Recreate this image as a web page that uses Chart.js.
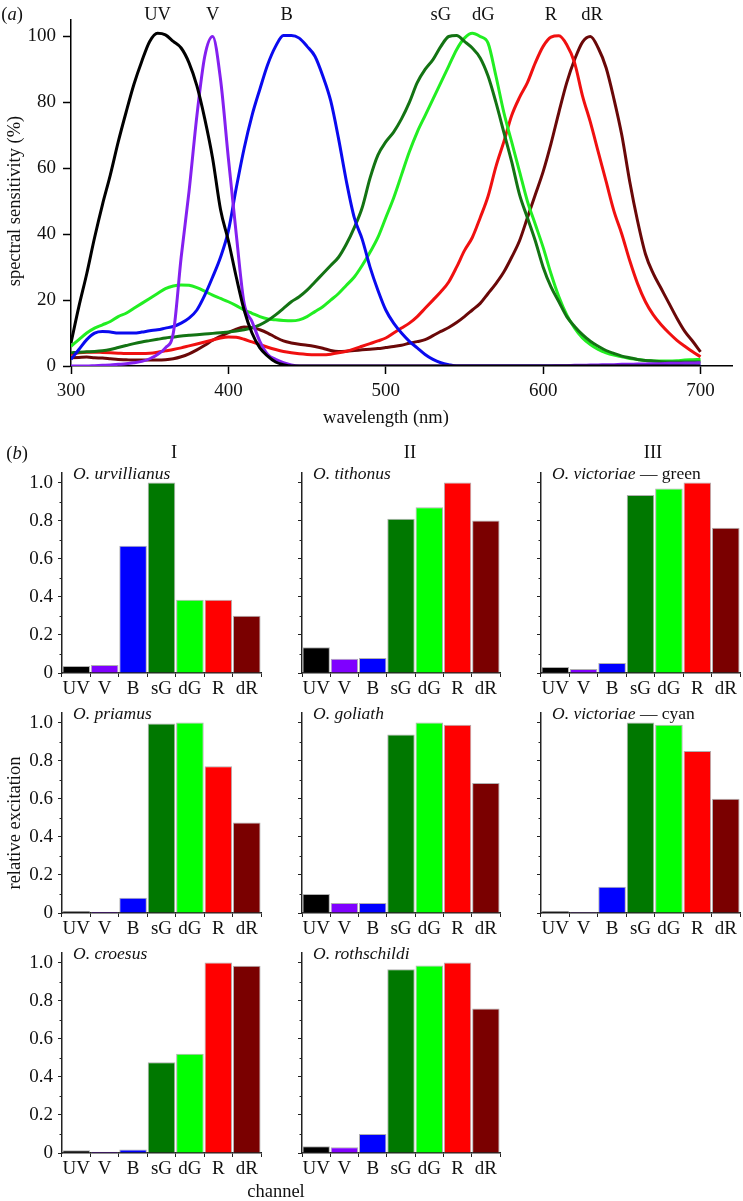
<!DOCTYPE html>
<html>
<head>
<meta charset="utf-8">
<script src="https://cdn.jsdelivr.net/npm/chart.js@4.4.0/dist/chart.umd.min.js"></script>
<style>
  body { margin:0; background:#fff; width:743px; height:1201px; position:relative; overflow:hidden;
         font-family:"Liberation Serif","Times New Roman",serif; color:#111; }
  canvas { position:absolute; }
  .t { position:absolute; font-size:18.5px; line-height:1; white-space:nowrap; transform:translate(-50%,-50%); }
  .rot { transform:translate(-50%,-50%) rotate(-90deg); }
</style>
</head>
<body>
<canvas id="spec" width="743" height="400" style="left:0;top:0"></canvas>
<canvas id="b0" width="264" height="250" style="left:0;top:453px"></canvas>
<canvas id="b1" width="264" height="250" style="left:240px;top:453px"></canvas>
<canvas id="b2" width="264" height="250" style="left:479px;top:453px"></canvas>
<canvas id="b3" width="264" height="250" style="left:0;top:693px"></canvas>
<canvas id="b4" width="264" height="250" style="left:240px;top:693px"></canvas>
<canvas id="b5" width="264" height="250" style="left:479px;top:693px"></canvas>
<canvas id="b6" width="264" height="250" style="left:0;top:933px"></canvas>
<canvas id="b7" width="264" height="250" style="left:240px;top:933px"></canvas>

<div class="t" style="left:12px;top:14px">(<i>a</i>)</div>
<div class="t rot" style="left:14px;top:201px">spectral sensitivity (%)</div>
<div class="t" style="left:386px;top:417px">wavelength (nm)</div>
<div class="t" style="left:17px;top:453px">(<i>b</i>)</div>
<div class="t" style="left:174px;top:452px">I</div>
<div class="t" style="left:410px;top:452px">II</div>
<div class="t" style="left:653px;top:452px">III</div>
<div class="t rot" style="left:14px;top:823px">relative excitation</div>
<div class="t" style="left:276px;top:1191px">channel</div>

<script>
// (a) spectral sensitivity, % per photoreceptor class
const wavelengths = [300,305,310,315,320,325,330,335,340,345,350,355,360,365,370,375,380,385,390,395,
  400,405,410,415,420,425,430,435,440,445,450,455,460,465,470,475,480,485,490,495,
  500,505,510,515,520,525,530,535,540,545,550,555,560,565,570,575,580,585,590,595,
  600,605,610,615,620,625,630,635,640,645,650,655,660,665,670,675,680,685,690,695,700];

const sensUV = [7,18,28,39,49,58,68,77,85.5,92.5, 98.5,101,100.5,98.5,96.5,92,85,75,63,47.5,
  38,27,17,10,5.5,3,1.2,0.4,0,0, 0,0,0,0,0,0,0,0,0,0, 0,0,0,0,0,0,0,0,0,0,
  0,0,0,0,0,0,0,0,0,0, 0,0,0,0,0,0,0,0,0,0, 0,0,0,0,0,0,0,0,0,0, 0];
const sensV = [0,0,0,0.1,0.2,0.3,0.5,0.7,1,1.4, 2.2,3.5,5.5,10,33,53,76,94,100,87,
  63,40,19,13.5,7.5,3.5,2,1,0.3,0, 0,0,0,0,0,0,0,0,0,0, 0,0,0,0,0,0,0,0,0,0,
  0,0,0,0,0,0,0,0,0,0, 0,0,0.1,0.1,0.2,0.2,0.3,0.3,0.4,0.4, 0.5,0.5,0.6,0.6,0.7,0.7,0.8,0.8,0.9,0.9, 1];
const sensB = [2,5,8,10,10.5,10.3,10,10,10,10.3, 10.7,11,11.5,12,13,14.5,17,21.5,27,33,
  41,54,66,76,84,91.5,97,100.3,100.3,99.5, 97,94,88,80.5,69,56,45,38.5,30,23,
  17,13,10,7.5,5.5,3.5,2,1,0.4,0, 0,0,0,0,0,0,0,0,0,0, 0,0,0,0,0,0,0,0,0,0,
  0,0,0,0,0,0,0,0,0,0, 0];
const sensSG = [4,4.2,4.3,4.4,4.6,5,5.6,6.2,6.8,7.3, 7.7,8.1,8.5,8.8,9.1,9.3,9.5,9.7,9.9,10.1,
  10.3,10.6,11,11.6,12.5,13.8,15.5,17.5,19.5,21, 23,25.5,28,30.5,33,37,42,48,57,64,
  68,71,75,80,86,90,93,97,100,100.3, 98.5,96.5,93.5,88,80,71,62,52,45,38,
  30,24,19.5,15,12,9.5,7.5,6,4.7,3.8, 3,2.5,2,1.7,1.5,1.3,1.2,1.2,1.2,1.2, 1.2];
const sensDG = [6,8,10,11.5,12.5,13.5,15,16,17.5,19, 20.5,22,23.5,24.3,24.6,24.5,23.8,22.7,21.5,20.5,
  19.5,18.3,17,16,15,14.3,14,13.8,13.7,14, 15,16.5,18,20,22,24.5,27,30.5,34.5,39,
  45,51,58,65,71,76,81,86,91,96, 99.5,101,100,98,88,77,68,59,50,43,
  36,28,21,15.5,11.5,8.5,6.5,5,4,3.3, 2.8,2.3,2,1.7,1.5,1.5,1.5,1.6,1.8,1.9, 2];
const sensR = [3.5,4,4.2,4.2,4.1,4,3.9,3.8,3.8,3.8, 3.9,4.2,4.6,5,5.5,6.1,6.7,7.3,7.9,8.5,
  8.8,8.7,8.1,7.3,6.5,5.7,5,4.4,4,3.7, 3.5,3.4,3.4,3.6,4,4.5,5.2,6,6.8,7.6,
  8.5,10,11.5,13,15,17.5,20,22.5,25.5,30, 35,39,45,51.5,60.5,68,76,81.5,86,92,
  97,99.8,100.2,97.5,92,82,74,65,56,47, 40,32,25,19.5,15.5,12.5,10,7.8,6,4.3, 2.8];
const sensDR = [2.5,2.6,2.7,2.5,2.4,2.2,2,1.9,1.8,1.8, 1.8,1.8,1.9,2.2,2.8,3.7,4.9,6.3,7.8,9,
  10.1,11.2,11.8,11.7,11,10,8.7,7.6,7,6.6, 6.3,5.9,5.4,4.7,4.4,4.5,4.7,4.9,5.1,5.3,
  5.6,5.9,6.3,6.9,7.4,8,9.2,10.5,11.7,13.2, 15,17,19,22,25,28.5,33,38,45,52,
  59,67.5,77,86,93,98.3,100,96.5,90.5,81, 70,56,44,34,28,23.5,19,14.5,10.5,7.5, 4.3];

const channels = ['UV','V','B','sG','dG','R','dR'];
const labelNm = [355, 390, 437, 535, 562, 605, 631];   // where the class names sit above the curves
const lineColors = ['#000000','#8420f0','#0a0aef','#137313','#22ee22','#f01010','#6a0808'];
const barColors  = ['#000000','#7f00ff','#0000ff','#007800','#00ff00','#ff0000','#7a0000'];

// (b) relative excitation per channel
const species = ['O. urvillianus','O. tithonus','O. victoriae','O. priamus','O. goliath','O. victoriae','O. croesus','O. rothschildi'];
const speciesNote = ['','',' \u2014 green','','',' \u2014 cyan','',''];
const urvillianus    = [0.037,0.042,0.668,1.0,0.384,0.385,0.30];
const tithonus       = [0.135,0.075,0.079,0.81,0.87,1.0,0.80];
const victoriaeGreen = [0.031,0.021,0.053,0.935,0.968,1.0,0.763];
const priamus        = [0.010,0.007,0.080,0.995,1.0,0.77,0.475];
const goliath        = [0.100,0.053,0.053,0.937,1.0,0.988,0.683];
const victoriaeCyan  = [0.010,0.006,0.138,1.0,0.988,0.85,0.60];
const croesus        = [0.014,0.007,0.019,0.477,0.521,1.0,0.983];
const rothschildi    = [0.035,0.030,0.100,0.965,0.985,1.0,0.758];
const minorSteps = [0.1,0.3,0.5,0.7,0.9];

Chart.defaults.font.family = '"Liberation Serif","Times New Roman",serif';
Chart.defaults.font.size = 19;
Chart.defaults.color = '#111';
Chart.defaults.animation = false;
Chart.defaults.plugins.legend.display = false;
Chart.defaults.plugins.tooltip.enabled = false;

const curves = [sensUV, sensV, sensB, sensSG, sensDG, sensR, sensDR];

const peakLabels = {
  id: 'peakLabels',
  afterDraw(chart) {
    const ctx = chart.ctx, x = chart.scales.x;
    ctx.save();
    ctx.font = '18.5px "Liberation Serif", serif';
    ctx.fillStyle = '#111';
    ctx.textAlign = 'center';
    ctx.textBaseline = 'middle';
    labelNm.forEach((nm, i) => ctx.fillText(channels[i], x.getPixelForValue(nm), 15));
    ctx.restore();
  }
};

new Chart(document.getElementById('spec'), {
  type: 'line',
  data: {
    datasets: curves.map((c, i) => ({
      label: channels[i],
      data: wavelengths.map((w, j) => ({x: w, y: c[j]})),
      borderColor: lineColors[i],
      borderWidth: 3,
      pointRadius: 0,
      cubicInterpolationMode: 'monotone',
      fill: false
    }))
  },
  options: {
    responsive: false,
    layout: { padding: { top: 20, right: 11, left: 0, bottom: 0 } },
    scales: {
      x: {
        type: 'linear', min: 300, max: 720,
        ticks: { stepSize: 100, includeBounds: false, padding: 6, maxRotation: 0 },
        grid: { display: true, drawOnChartArea: false, drawTicks: true, tickLength: 8, color: '#000', tickWidth: 1.5 },
        border: { display: true, color: '#000', width: 1.5 },
        afterFit: s => { s.height = 34; }
      },
      y: {
        min: 0, max: 105,
        ticks: { stepSize: 20, includeBounds: false, padding: 7 },
        grid: { display: true, drawOnChartArea: false, drawTicks: true, tickLength: 8, color: '#000', tickWidth: 1.5 },
        border: { display: true, color: '#000', width: 1.5 },
        afterFit: s => { s.width = 71; }
      }
    }
  },
  plugins: [peakLabels]
});

const speciesLabel = {
  id: 'speciesLabel',
  afterDraw(chart, args, opts) {
    const ctx = chart.ctx, a = chart.chartArea;
    ctx.save();
    ctx.fillStyle = '#111';
    ctx.textBaseline = 'middle';
    ctx.textAlign = 'left';
    ctx.font = 'italic 17.5px "Liberation Serif", serif';
    const x0 = a.left + 11, y0 = a.top + 1;
    ctx.fillText(opts.name, x0, y0);
    if (opts.note) {
      const w = ctx.measureText(opts.name).width;
      ctx.font = '17.5px "Liberation Serif", serif';
      ctx.fillText(opts.note, x0 + w, y0);
    }
    ctx.restore();
  }
};

const minorTicks = {
  id: 'minorTicks',
  afterDraw(chart) {
    const y = chart.scales.y, ctx = chart.ctx;
    ctx.save();
    ctx.strokeStyle = '#222';
    ctx.lineWidth = 1;
    minorSteps.forEach(v => {
      const py = Math.round(y.getPixelForValue(v)) + 0.5;
      ctx.beginPath(); ctx.moveTo(y.right - 2.5, py); ctx.lineTo(y.right, py); ctx.stroke();
    });
    ctx.restore();
  }
};

const panels = [urvillianus, tithonus, victoriaeGreen, priamus, goliath, victoriaeCyan, croesus, rothschildi];

panels.forEach((vals, k) => {
  const firstCol = k % 3 === 0;
  new Chart(document.getElementById('b' + k), {
    type: 'bar',
    data: {
      labels: channels,
      datasets: [{
        data: vals,
        backgroundColor: barColors,
        borderColor: '#b0b0b0',
        borderWidth: 1,
        barPercentage: 0.97,
        categoryPercentage: 1
      }]
    },
    options: {
      responsive: false,
      layout: { padding: { top: 20, right: k % 3 === 1 ? 4 : 3, left: 0, bottom: 0 } },
      plugins: { speciesLabel: { name: species[k], note: speciesNote[k] } },
      scales: {
        x: {
          ticks: { padding: 1, autoSkip: false, maxRotation: 0, minRotation: 0 },
          grid: { display: true, offset: true, drawOnChartArea: false, drawTicks: true, tickLength: 4, color: '#222', tickWidth: 1 },
          border: { display: true, color: '#222', width: 1.5 },
          afterFit: s => { s.height = 30; }
        },
        y: {
          min: 0, max: 1.05,
          ticks: {
            stepSize: 0.2, includeBounds: false, padding: 5,
            display: firstCol,
            callback: v => v === 0 ? '0' : v.toFixed(1)
          },
          grid: { display: true, drawOnChartArea: false, drawTicks: true, tickLength: 4, color: '#222', tickWidth: 1 },
          border: { display: true, color: '#222', width: 1.5 },
          afterFit: s => { s.width = 62; }
        }
      }
    },
    plugins: [speciesLabel, minorTicks]
  });
});
</script>
</body>
</html>
